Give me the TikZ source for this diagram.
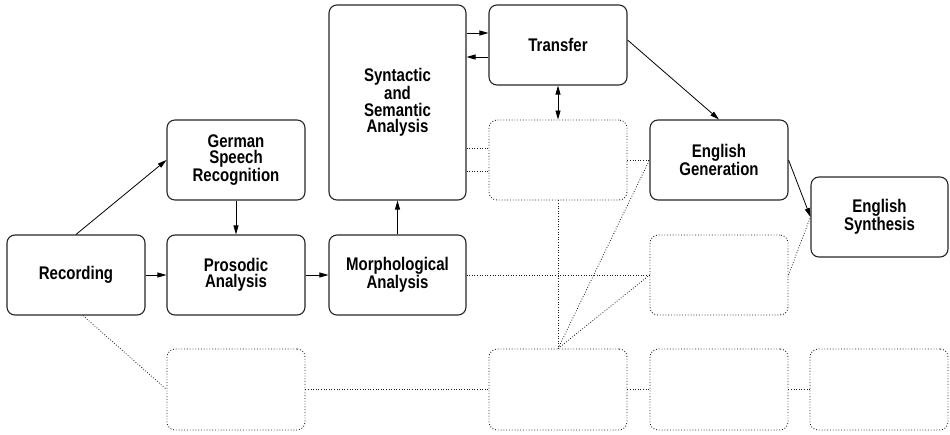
\documentclass[tikz,border=0pt]{standalone}
\usepackage{fontspec}
\setmainfont{Liberation Sans}[FakeStretch=0.82]
\usetikzlibrary{arrows.meta,calc}
\begin{document}
\begin{tikzpicture}[x=1pt,y=-1pt,
  box/.style={draw=black!85,line width=1.1pt,rounded corners=8pt,minimum width=138pt,minimum height=80pt,inner sep=0pt,align=center,font=\fontsize{18.3pt}{16.4pt}\selectfont\bfseries},
  dbox/.style={draw=black!85,line width=0.9pt,dash pattern=on 0.9pt off 1.9pt,rounded corners=8pt,minimum width=138pt,minimum height=81pt,inner sep=0pt},
  arr/.style={draw=black,line width=0.8pt,-{Triangle[length=9pt,width=5pt]}},
  darr/.style={draw=black,line width=0.8pt,{Triangle[length=9pt,width=5pt]}-{Triangle[length=9pt,width=5pt]}},
  dline/.style={draw=black!90,line width=0.8pt,dash pattern=on 0.8pt off 1.8pt}]
\useasboundingbox (0,0) rectangle (950,434);
% solid boxes
\node[box] (rec) at (76,275) {Recording};
\node[box] (gsr) at (236,160) {German\\Speech\\Recognition};
\node[box] (pro) at (236,275) {Prosodic\\Analysis};
\node[box,minimum width=137pt] (mor) at (397.5,275) {Morphological\\Analysis};
\node[box,minimum width=137pt,minimum height=195pt] (syn) at (397.5,102.5) {Syntactic\\and\\Semantic\\Analysis};
\node[box] (tra) at (558,45) {Transfer};
\node[box] (eng) at (719,160) {English\\Generation};
\node[box,minimum width=137pt] (esy) at (879.5,217) {English\\Synthesis};
% dotted boxes
\node[dbox,minimum height=80pt] (d1) at (558,160) {};
\node[dbox,minimum height=80pt] (d2) at (719,275) {};
\node[dbox] (b1) at (236,389.5) {};
\node[dbox] (b2) at (558,389.5) {};
\node[dbox] (b3) at (719,389.5) {};
\node[dbox] (b4) at (879,389.5) {};
% helper coordinates
\coordinate (t1) at ([yshift=12pt]tra.west);
\coordinate (t2) at ([yshift=-12pt]tra.west);
\coordinate (t3) at ([yshift=5pt]tra.east);
\coordinate (s1) at ([yshift=12pt]d1.west);
\coordinate (s2) at ([yshift=-11pt]d1.west);
\coordinate (r1) at ([xshift=7pt]rec.south);
% arrows
\draw[arr] (rec.north) -- (gsr.west);
\draw[arr] (gsr.south) -- (pro.north);
\draw[arr] (rec.east) -- (pro.west);
\draw[arr] (pro.east) -- (mor.west);
\draw[arr] (mor.north) -- (syn.south);
\draw[arr] (syn.east |- t1) -- (t1);
\draw[arr] (t2) -- (syn.east |- t2);
\draw[darr] (tra.south) -- (d1.north);
\draw[arr] (t3) -- (eng.north);
\draw[arr] (eng.east) -- (esy.west);
% dotted connectors
\draw[dline] (syn.east |- s1) -- (s1);
\draw[dline] (syn.east |- s2) -- (s2);
\draw[dline] (d1.east) -- (eng.west);
\draw[dline] (mor.east) -- (d2.west);
\draw[dline] (d1.south) -- (b2.north);
\draw[dline] (b2.north) -- (eng.west);
\draw[dline] (b2.north) -- (d2.west);
\draw[dline] (d2.east) -- (esy.west);
\draw[dline] (r1) -- (b1.west);
\draw[dline] (b1.east) -- (b2.west);
\draw[dline] (b2.east) -- (b3.west);
\draw[dline] (b3.east) -- (b4.west);
\end{tikzpicture}
\end{document}
